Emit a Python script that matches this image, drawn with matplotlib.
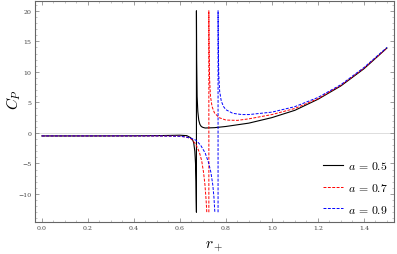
import matplotlib.pyplot as plt
from matplotlib.ticker import MultipleLocator

plt.rcParams["mathtext.fontset"] = "cm"
plt.rcParams["font.family"] = "DejaVu Serif"

# a = 0.5 (black), lower branch + pole + upper branch in one line
r_05 = [0.0, 0.2, 0.4, 0.5, 0.55, 0.6, 0.63, 0.645, 0.655, 0.66, 0.665, 0.668, 0.67, 0.671, 0.672,
        0.672, 0.673, 0.675, 0.678, 0.682, 0.687, 0.693, 0.70, 0.71, 0.75, 0.8, 0.9, 1.0, 1.1, 1.2, 1.3, 1.4, 1.5]
cp_05 = [-0.5, -0.5, -0.48, -0.45, -0.42, -0.38, -0.45, -0.75, -1.1, -1.6, -3.0, -5.0, -8.0, -11.0, -13.0,
         20.0, 12.0, 6.0, 3.5, 2.1, 1.4, 1.05, 0.9, 0.8, 0.85, 1.05, 1.6, 2.5, 3.7, 5.5, 7.7, 10.5, 13.9]

# a = 0.7 (red)
r_07_low = [0.0, 0.3, 0.5, 0.6, 0.63, 0.65, 0.67, 0.685, 0.695, 0.703, 0.709, 0.714, 0.717]
cp_07_low = [-0.5, -0.5, -0.5, -0.55, -0.7, -1.0, -1.9, -3.2, -4.6, -6.5, -8.5, -11.0, -13.0]
r_07_up = [0.726, 0.726, 0.727, 0.729, 0.733, 0.74, 0.75, 0.77, 0.8, 0.85, 0.9, 1.0, 1.1, 1.2, 1.3, 1.4, 1.5]
cp_07_up = [-13.0, 20.0, 14.0, 9.0, 6.0, 4.3, 3.3, 2.5, 2.1, 2.05, 2.3, 3.0, 4.0, 5.6, 7.8, 10.6, 13.9]

# a = 0.9 (blue)
r_09_low = [0.0, 0.5, 0.6, 0.63, 0.65, 0.67, 0.69, 0.71, 0.725, 0.735, 0.743, 0.748, 0.752]
cp_09_low = [-0.5, -0.5, -0.55, -0.7, -0.9, -1.2, -2.0, -3.3, -4.9, -6.5, -8.5, -10.5, -13.0]
r_09_up = [0.766, 0.766, 0.767, 0.769, 0.773, 0.78, 0.79, 0.8, 0.83, 0.87, 0.9, 1.0, 1.1, 1.2, 1.3, 1.4, 1.5]
cp_09_up = [-13.0, 20.0, 14.0, 9.5, 6.8, 5.2, 4.3, 3.8, 3.2, 3.0, 3.0, 3.4, 4.3, 5.8, 7.9, 10.7, 14.0]

fig = plt.figure(figsize=(3.97, 2.55), dpi=100)
ax = fig.add_axes([0.088, 0.1255, 0.904, 0.8665])

ax.axhline(0, color='#d8d8d8', lw=0.6, zorder=0)

dash = (0, (3, 1.5))
ax.plot(r_05, cp_05, '-', c='black', lw=0.8, label=r"$a\,=\,0.5$")
ax.plot(r_07_low, cp_07_low, c='red', ls=dash, lw=0.7, label=r"$a\,=\,0.7$")
ax.plot(r_07_up, cp_07_up, c='red', ls=dash, lw=0.7)
ax.plot(r_09_low, cp_09_low, c='blue', ls=dash, lw=0.7, label=r"$a\,=\,0.9$")
ax.plot(r_09_up, cp_09_up, c='blue', ls=dash, lw=0.7)

ax.set_xlim(-0.03, 1.53)
ax.set_ylim(-14.6, 21.6)
ax.xaxis.set_minor_locator(MultipleLocator(0.05))
ax.yaxis.set_minor_locator(MultipleLocator(1))
ax.set_xticks([0.0, 0.2, 0.4, 0.6, 0.8, 1.0, 1.2, 1.4])
ax.set_xticklabels(['0.0', '0.2', '0.4', '0.6', '0.8', '1.0', '1.2', '1.4'])
ax.set_yticks([-10, -5, 0, 5, 10, 15, 20])
ax.set_yticklabels(['\u221210', '\u22125', '0', '5', '10', '15', '20'])
ax.tick_params(direction='in', which='major', length=3, width=0.5, colors='#777777',
               labelcolor='#444444', labelsize=4.5, bottom=True, top=True, left=True, right=True, pad=2.5)
ax.tick_params(direction='in', which='minor', length=1.5, width=0.4, colors='#999999',
               bottom=True, top=True, left=True, right=True)
for s in ax.spines.values():
    s.set_color('#666666')
    s.set_linewidth(0.8)

ax.set_xlabel(r"$r_+$", fontsize=11, labelpad=6)
fig.text(14 / 397, 1 - 100 / 255, r"$C_P$", fontsize=11, rotation=90, ha='center', va='center')

ax.legend(loc='lower right', fontsize=8.5, frameon=False, handlelength=1.7,
          labelspacing=0.75, handletextpad=0.35, borderaxespad=0.15)

fig.savefig('out.png', dpi=100)
